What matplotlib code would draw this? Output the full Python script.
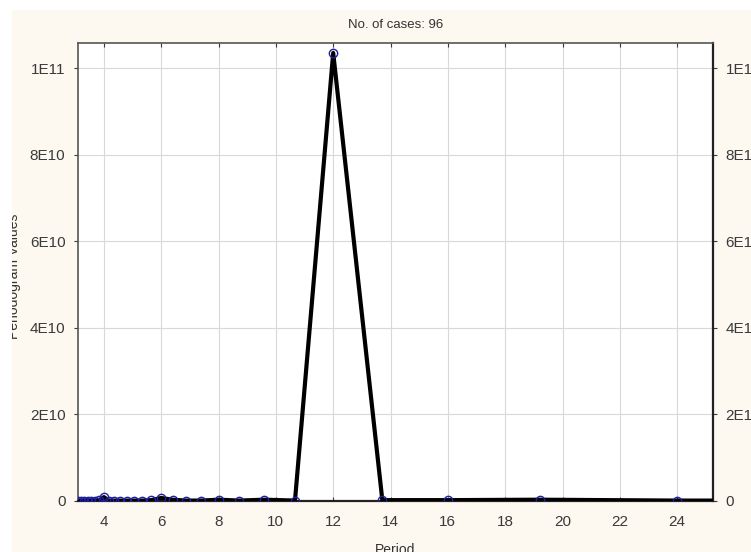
import matplotlib.pyplot as plt
from matplotlib.patches import Rectangle

# periodogram of a 96-case series, plotted against period
periods = [96.0, 48.0, 32.0, 24.0, 19.2, 16.0, 13.714, 12.0, 10.667, 9.6,
           8.727, 8.0, 7.385, 6.857, 6.4, 6.0, 5.647, 5.333, 5.053, 4.8,
           4.571, 4.364, 4.174, 4.0, 3.84, 3.692, 3.556, 3.429, 3.31, 3.2,
           3.097]
values = [2e8, 2e8, 1e8, 1e8, 3e8, 2e8, 2e8, 1.035e11, 1e8, 3e8,
          1e8, 3e8, 1e8, 1e8, 3e8, 7e8, 2e8, 1e8, 1e8, 1e8,
          1e8, 1e8, 1e8, 9e8, 2e8, 1e8, 1e8, 1e8, 1e8, 1e8,
          1e8]

x_ticks = [4, 6, 8, 10, 12, 14, 16, 18, 20, 22, 24]
y_ticks = [0, 2e10, 4e10, 6e10, 8e10, 1e11]
y_tick_labels = ['0', '2E10', '4E10', '6E10', '8E10', '1E11']

plt.rcParams['font.family'] = ['Liberation Sans', 'DejaVu Sans']

cream = '#fdf9f0'
fig = plt.figure(figsize=(7.51, 5.52), dpi=100, facecolor='white')
bg = Rectangle((12 / 751, 0), 1, 1 - 10 / 552, transform=fig.transFigure,
               facecolor=cream, edgecolor='none', zorder=-10)
fig.patches.append(bg)

ax = fig.add_axes([78 / 751, 1 - 501 / 552, 635 / 751, 458 / 552])
ax.set_facecolor('white')

ax.plot(periods, values, color='black', lw=3.0, zorder=3)
ax.plot(periods, values, ls='none', marker='o', ms=6, mfc='none',
        mec='#1f1fa0', mew=1.0, zorder=4)

ax.set_xlim(3.097, 25.25)
ax.set_ylim(0, 1.058e11)
ax.set_xticks(x_ticks)
ax.set_yticks(y_ticks)
ax.set_yticklabels(y_tick_labels)
ax.grid(True, color='#d8d8d8', lw=0.8)
ax.set_axisbelow(True)

ax.tick_params(axis='x', direction='in', top=True, bottom=True, length=3,
               labelsize=11, colors='#3a3a3a', pad=10)
ax.tick_params(axis='y', direction='out', left=True, right=True,
               labelleft=True, labelright=True, length=3,
               labelsize=11, colors='#3a3a3a', pad=6)
for side in ['left', 'top']:
    ax.spines[side].set_color('#555555')
    ax.spines[side].set_linewidth(1.2)
for side in ['right', 'bottom']:
    ax.spines[side].set_color('#222222')
    ax.spines[side].set_linewidth(1.6)

ax.set_title('No. of cases: 96', fontsize=9.5, color='#333333', pad=11)
fig.text(395 / 751, 1 - 550 / 552, 'Period', ha='center', va='center',
         fontsize=10, color='#333333')
ylab = fig.text(14 / 751, 0.5, 'Periodogram Values', rotation=90,
                ha='center', va='center', fontsize=10, color='#333333')
ylab.set_clip_path(bg)

fig.savefig('out.png', dpi=100, facecolor=fig.get_facecolor())
